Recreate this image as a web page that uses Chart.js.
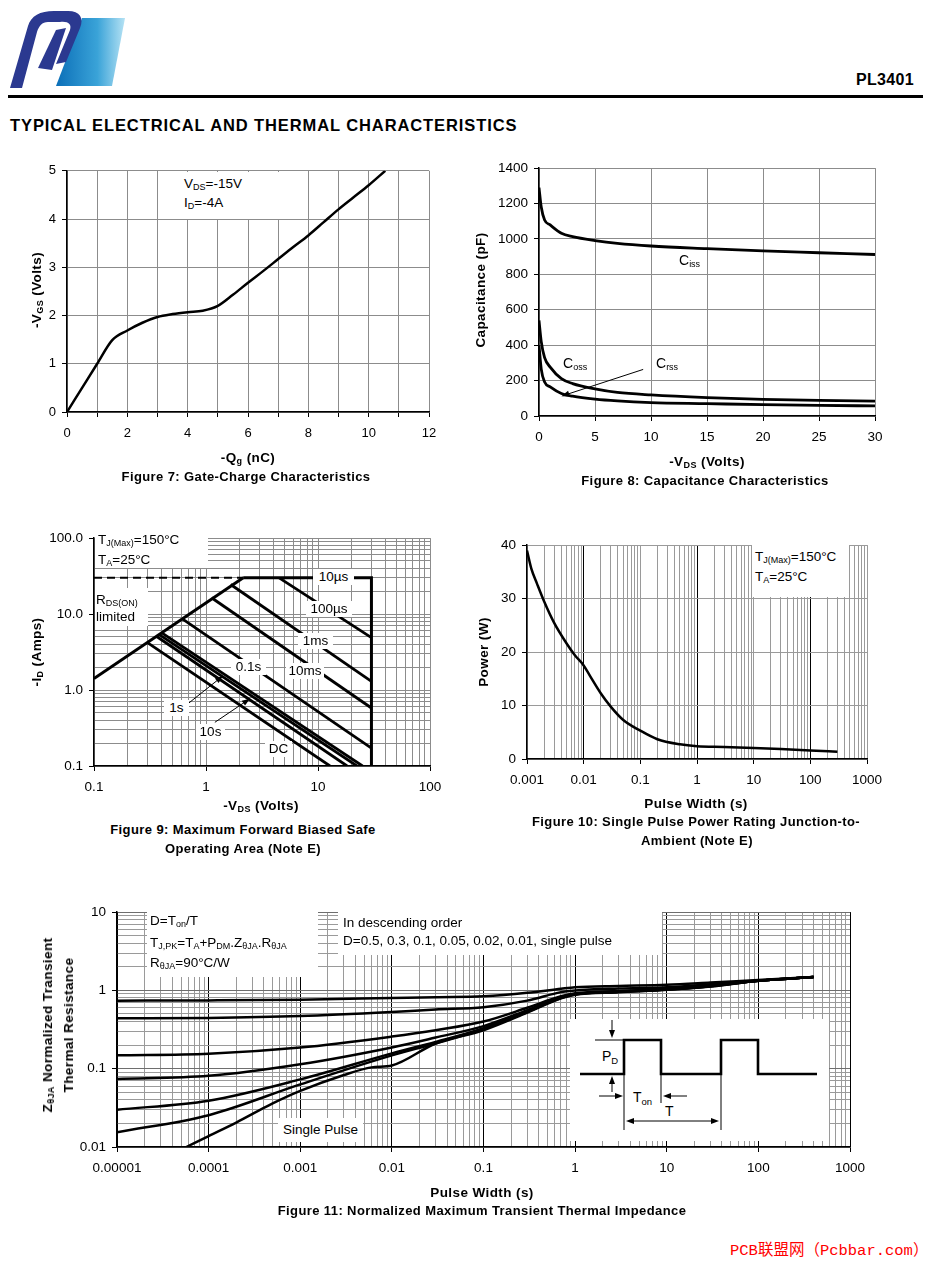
<!DOCTYPE html>
<html lang="en">
<head>
  <meta charset="UTF-8">
  <title>PL3401 Typical Electrical and Thermal Characteristics</title>
  <script src="https://cdn.jsdelivr.net/npm/chart.js"></script>
  <style>
    body { margin: 0; background: #fff; }
    #page { position: relative; width: 932px; height: 1268px; overflow: hidden; background: #fff; }
    canvas, .abs { position: absolute; }
    .t { position: absolute; font-family: "Liberation Sans", Arial, sans-serif; font-size: 13.5px; line-height: 1; white-space: nowrap; color: #000; }
    .b { font-weight: bold; letter-spacing: 0.4px; }
    .c { transform: translateX(-50%); }
    .rot { transform: translate(-50%, -50%) rotate(-90deg); text-align: center; }
    .box { position: absolute; background: #fff; }
    .lab { position: absolute; background: #fff; font-family: "Liberation Sans", Arial, sans-serif; font-size: 13.5px; text-align: center; white-space: nowrap; }
    sub { font-size: 9px; vertical-align: -2px; line-height: 0; }
  </style>
</head>
<body>
<div id="page">
  <!-- logo -->
  <svg class="abs" style="left:8px;top:8px" width="120" height="82" viewBox="0 0 120 82">
    <defs>
      <linearGradient id="lg" x1="0" y1="0" x2="1" y2="0">
        <stop offset="0" stop-color="#0b6fb8"/>
        <stop offset="0.6" stop-color="#3aa3d8"/>
        <stop offset="1" stop-color="#b5e2f4"/>
      </linearGradient>
    </defs>
    <polygon points="74,10 117,10 104,78 48,78" fill="url(#lg)"/>
    <path d="M2 80 L20 18 C23 8 32 3 46 3 L60 3 C72 3 76 10 72 20 L58 54 L48 56 L62 22 C64 16 60 13 52 14 L40 14 C34 14 31 18 29 24 L14 80 Z" fill="#2b3990"/>
    <path d="M30 60 L48 22 L58 20 L44 62 Z" fill="#2b3990"/>
  </svg>
  <div class="t b" style="left:856px;top:72px;font-size:16px;letter-spacing:0.3px">PL3401</div>
  <div class="box" style="left:8px;top:95px;width:915px;height:3px;background:#000"></div>
  <div class="t b" style="left:10px;top:117px;font-size:16.5px;letter-spacing:0.9px">TYPICAL ELECTRICAL AND THERMAL CHARACTERISTICS</div>

  <canvas id="fig7"></canvas>
  <canvas id="fig8"></canvas>
  <canvas id="fig9"></canvas>
  <canvas id="fig10"></canvas>
  <canvas id="fig11"></canvas>

  <!-- Figure 7 texts -->
  <div class="box" style="left:181px;top:172px;width:99px;height:47px"></div>
  <div class="t" style="left:184px;top:177px">V<sub>DS</sub>=-15V</div>
  <div class="t" style="left:184px;top:196px">I<sub>D</sub>=-4A</div>
  <div class="t b rot" style="left:37px;top:290px">-V<sub>GS</sub> (Volts)</div>
  <div class="t b c" style="left:248px;top:451px">-Q<sub>g</sub> (nC)</div>
  <div class="t b c" style="left:246px;top:470px;font-size:13px">Figure 7: Gate-Charge Characteristics</div>

  <!-- Figure 8 texts -->
  <div class="t" style="left:679px;top:253px;font-size:14px">C<sub>iss</sub></div>
  <div class="t" style="left:563px;top:356px;font-size:14px">C<sub>oss</sub></div>
  <div class="t" style="left:656px;top:356px;font-size:14px">C<sub>rss</sub></div>
  <div class="t b rot" style="left:481px;top:290px">Capacitance (pF)</div>
  <div class="t b c" style="left:707px;top:455px">-V<sub>DS</sub> (Volts)</div>
  <div class="t b c" style="left:705px;top:474px;font-size:13px">Figure 8: Capacitance Characteristics</div>

  <!-- Figure 9 texts -->
  <div class="box" style="left:95px;top:528px;width:113px;height:40px"></div>
  <div class="t" style="left:98px;top:533px">T<sub>J(Max)</sub>=150°C</div>
  <div class="t" style="left:98px;top:553px">T<sub>A</sub>=25°C</div>
  <div class="box" style="left:95px;top:588px;width:53px;height:38px"></div>
  <div class="t" style="left:96px;top:593px">R<sub>DS(ON)</sub></div>
  <div class="t" style="left:96px;top:610px">limited</div>
  <div class="lab" style="left:313px;top:569px;width:41px;height:16px;line-height:16px">10µs</div>
  <div class="lab" style="left:306px;top:601px;width:46px;height:16px;line-height:16px">100µs</div>
  <div class="lab" style="left:298px;top:633px;width:35px;height:16px;line-height:16px">1ms</div>
  <div class="lab" style="left:286px;top:663px;width:38px;height:16px;line-height:16px">10ms</div>
  <div class="lab" style="left:231px;top:659px;width:35px;height:16px;line-height:16px">0.1s</div>
  <div class="lab" style="left:164px;top:700px;width:25px;height:16px;line-height:16px">1s</div>
  <div class="lab" style="left:196px;top:724px;width:29px;height:16px;line-height:16px">10s</div>
  <div class="lab" style="left:265px;top:741px;width:27px;height:16px;line-height:16px">DC</div>
  <div class="t b rot" style="left:37px;top:652px">-I<sub>D</sub> (Amps)</div>
  <div class="t b c" style="left:261px;top:799px">-V<sub>DS</sub> (Volts)</div>
  <div class="t b c" style="left:243px;top:823px;font-size:13px">Figure 9: Maximum Forward Biased Safe</div>
  <div class="t b c" style="left:243px;top:842px;font-size:13px">Operating Area (Note E)</div>

  <!-- Figure 10 texts -->
  <div class="box" style="left:752px;top:545px;width:97px;height:52px"></div>
  <div class="t" style="left:755px;top:550px">T<sub>J(Max)</sub>=150°C</div>
  <div class="t" style="left:755px;top:570px">T<sub>A</sub>=25°C</div>
  <div class="t b rot" style="left:484px;top:652px">Power (W)</div>
  <div class="t b c" style="left:696px;top:797px">Pulse Width (s)</div>
  <div class="t b c" style="left:696px;top:815px;font-size:13px">Figure 10: Single Pulse Power Rating Junction-to-</div>
  <div class="t b c" style="left:697px;top:834px;font-size:13px">Ambient (Note E)</div>

  <!-- Figure 11 texts -->
  <div class="box" style="left:147px;top:912px;width:171px;height:65px"></div>
  <div class="t" style="left:150px;top:914px">D=T<sub>on</sub>/T</div>
  <div class="t" style="left:150px;top:936px">T<sub>J,PK</sub>=T<sub>A</sub>+P<sub>DM</sub>.Z<sub>θJA</sub>.R<sub>θJA</sub></div>
  <div class="t" style="left:150px;top:956px">R<sub>θJA</sub>=90°C/W</div>
  <div class="box" style="left:338px;top:912px;width:324px;height:43px"></div>
  <div class="t" style="left:343px;top:916px">In descending order</div>
  <div class="t" style="left:343px;top:934px">D=0.5, 0.3, 0.1, 0.05, 0.02, 0.01, single pulse</div>
  <div class="lab" style="left:278px;top:1118px;width:85px;height:24px;line-height:24px">Single Pulse</div>
  <svg class="abs" style="left:570px;top:1019px" width="259" height="122" viewBox="0 0 259 122">
    <rect width="259" height="122" fill="#fff"/>
    <polyline points="10,55 54,55 54,21 91,21 91,55 151,55 151,21 188,21 188,55 247,55" fill="none" stroke="#000" stroke-width="2.6"/>
    <g stroke="#000" stroke-width="1" fill="none">
      <line x1="25" y1="21" x2="54" y2="21"/>
      <line x1="54" y1="55" x2="54" y2="111"/>
      <line x1="91" y1="55" x2="91" y2="84"/>
      <line x1="151" y1="55" x2="151" y2="111"/>
      <line x1="42" y1="1" x2="42" y2="13"/>
      <line x1="42" y1="73" x2="42" y2="63"/>
      <line x1="29" y1="77" x2="47" y2="77"/>
      <line x1="117" y1="77" x2="99" y2="77"/>
      <line x1="62" y1="102" x2="143" y2="102"/>
    </g>
    <g fill="#000">
      <polygon points="42,19 39,11 45,11"/>
      <polygon points="42,57 39,65 45,65"/>
      <polygon points="53,77 45,74 45,80"/>
      <polygon points="93,77 101,74 101,80"/>
      <polygon points="56,102 64,99 64,105"/>
      <polygon points="149,102 141,99 141,105"/>
    </g>
    <g font-family="Liberation Sans, Arial, sans-serif" font-size="14" fill="#000">
      <text x="32" y="42">P<tspan font-size="9.5" dy="3">D</tspan></text>
      <text x="63" y="83">T<tspan font-size="9.5" dy="3">on</tspan></text>
      <text x="95" y="97">T</text>
    </g>
  </svg>
  <div class="t b rot" style="left:58px;top:1025px;line-height:21px">Z<sub>θJA</sub> Normalized Transient<br>Thermal Resistance</div>
  <div class="t b c" style="left:482px;top:1186px">Pulse Width (s)</div>
  <div class="t b c" style="left:482px;top:1204px;font-size:13px">Figure 11: Normalized Maximum Transient Thermal Impedance</div>

  <div class="t" style="left:730px;top:1244px;font-size:15.5px;color:#ff0000;font-family:'Liberation Mono','Noto Sans CJK SC',monospace">PCB联盟网（Pcbbar.com）</div>
</div>

<script>
  // ---------- Figure 7: gate charge ----------
  const qgNc = [0, 0.5, 1, 1.5, 2, 2.5, 3, 3.5, 4, 4.5, 5, 5.5, 6, 6.5, 7, 7.5, 8, 8.5, 9, 9.5, 10, 10.55];
  const vgsVolts = [0, 0.5, 1.0, 1.49, 1.69, 1.85, 1.97, 2.03, 2.07, 2.1, 2.2, 2.43, 2.68, 2.92, 3.17, 3.42, 3.66, 3.93, 4.2, 4.45, 4.7, 5.0];

  // ---------- Figure 8: capacitance ----------
  const vdsVolts = [0, 0.2, 0.5, 1, 2, 3, 5, 7, 10, 15, 20, 25, 30];
  const cissPf = [1290, 1180, 1107, 1079, 1032, 1013, 991, 975, 960, 945, 932, 922, 912];
  const cossPf = [540, 420, 330, 276, 211, 183, 153, 133, 119, 104, 94, 88, 84];
  const crssPf = [400, 265, 192, 164, 127, 112, 95, 85, 76, 70, 64, 60, 57];

  // ---------- Figure 9: safe operating area (V, A) ----------
  const soaRdsV = [0.1, 2.15], soaRdsI = [1.42, 30];
  const soaDashV = [0.1, 2.15], soaDashI = [30, 30];
  const soaEdgeV = [2.15, 30, 30], soaEdgeI = [30, 30, 0.1];
  const soa10usV = [4.5, 30], soa10usI = [30, 4.9];
  const soa100usV = [1.66, 30], soa100usI = [24.5, 1.3];
  const soa1msV = [1.12, 30], soa1msI = [16.4, 0.58];
  const soa10msV = [0.61, 30], soa10msI = [8.7, 0.172];
  const soa100msV = [0.40, 25], soa100msI = [5.7, 0.1];
  const soa1sV = [0.38, 22.3], soa1sI = [5.4, 0.1];
  const soa10sV = [0.36, 18.2], soa10sI = [5.1, 0.1];
  const soaDcV = [0.30, 12.8], soaDcI = [4.2, 0.1];

  // ---------- Figure 10: single pulse power ----------
  const pulseS = [0.001, 0.0012, 0.0015, 0.002, 0.003, 0.005, 0.007, 0.01, 0.013, 0.02, 0.03, 0.05, 0.1, 0.2, 0.5, 1, 3, 10, 30, 100, 300];
  const powerW = [39, 35.5, 32.8, 29.5, 25.5, 21.6, 19.4, 17.5, 15.5, 12.3, 9.8, 7.3, 5.3, 3.7, 2.75, 2.4, 2.25, 2.05, 1.85, 1.6, 1.35];

  // ---------- Figure 11: transient thermal impedance ----------
  const zthS = [1e-5, 1e-4, 1e-3, 0.01, 0.03, 0.1, 0.3, 0.7, 1, 3, 10, 30, 100, 400];
  const zthD50 = [0.74, 0.745, 0.76, 0.80, 0.82, 0.84, 0.93, 1.05, 1.10, 1.14, 1.18, 1.26, 1.36, 1.48];
  const zthD30 = [0.44, 0.445, 0.47, 0.53, 0.57, 0.61, 0.74, 0.95, 1.0, 1.06, 1.10, 1.20, 1.34, 1.48];
  const zthD10 = [0.148, 0.155, 0.186, 0.257, 0.31, 0.40, 0.60, 0.84, 0.92, 0.98, 1.04, 1.15, 1.33, 1.48];
  const zthD05 = [0.074, 0.081, 0.114, 0.187, 0.25, 0.35, 0.56, 0.82, 0.90, 0.97, 1.03, 1.14, 1.33, 1.48];
  const zthD02 = [0.030, 0.039, 0.073, 0.157, 0.22, 0.33, 0.54, 0.81, 0.89, 0.96, 1.03, 1.13, 1.33, 1.48];
  const zthD01 = [0.0154, 0.0255, 0.063, 0.148, 0.21, 0.32, 0.53, 0.80, 0.89, 0.96, 1.02, 1.13, 1.33, 1.48];
  const zthSingleS = [5.7e-5, 1e-4, 2e-4, 5e-4, 1e-3, 3e-3, 6e-3, 0.01, 0.03, 0.1, 0.3, 0.7, 1, 3, 10, 30, 100, 400];
  const zthSingle = [0.01, 0.0138, 0.0205, 0.036, 0.052, 0.083, 0.104, 0.11, 0.21, 0.31, 0.52, 0.79, 0.88, 0.95, 1.02, 1.12, 1.33, 1.48];

  // annotation arrows [x, y] in data units
  const fig8Arrow = { from: [9.3, 263], to: [2.0, 112] };
  const fig9Arrow1s = { from: [0.676, 0.645], to: [1.42, 1.54] };
  const fig9Arrow10s = { from: [1.2, 0.376], to: [2.47, 0.77] };

  Chart.defaults.font.family = '"Liberation Sans", Arial, sans-serif';
  Chart.defaults.font.size = 13.5;
  Chart.defaults.color = '#000';
  Chart.defaults.animation = false;
  Chart.defaults.plugins.legend.display = false;
  Chart.defaults.plugins.tooltip.enabled = false;

  const GRID = '#8c8c8c';

  function isDecade(v) {
    const l = Math.log10(v);
    return Math.abs(l - Math.round(l)) < 1e-6;
  }

  function logTicks(min, max) {
    const out = [];
    for (let e = Math.floor(Math.log10(min)); e <= Math.ceil(Math.log10(max)); e++) {
      for (let k = 1; k < 10; k++) {
        const v = parseFloat((k * Math.pow(10, e)).toPrecision(6));
        if (v >= min * 0.999 && v <= max * 1.001) out.push(v);
      }
    }
    return out;
  }

  // place canvas so that the plot area lands on plot = [left, top, right, bottom]
  function mount(id, plot, m) {
    const c = document.getElementById(id);
    const w = plot[2] - plot[0] + m.l + m.r;
    const h = plot[3] - plot[1] + m.t + m.b;
    c.width = w; c.height = h;
    c.style.left = (plot[0] - m.l) + 'px';
    c.style.top = (plot[1] - m.t) + 'px';
    c.style.width = w + 'px';
    c.style.height = h + 'px';
    return c;
  }

  function axis(dir, m, o) {
    const s = {
      type: o.type || 'linear',
      min: o.min,
      max: o.max,
      afterFit: dir === 'x' ? sc => { sc.height = m.b; } : sc => { sc.width = m.l; },
      border: { display: true, color: '#000', width: 1.5 },
      grid: {
        color: o.gridColor || GRID,
        lineWidth: 1,
        tickLength: 5,
        tickColor: o.tickColor || '#000'
      },
      ticks: {
        autoSkip: false,
        maxRotation: 0,
        minRotation: 0,
        padding: dir === 'x' ? (o.pad || 8) : 6,
        stepSize: o.step,
        font: { size: o.size || 13.5 },
        callback: o.label
      }
    };
    if (s.type === 'logarithmic') {
      s.afterBuildTicks = sc => { sc.ticks = logTicks(o.min, o.max).map(v => ({ value: v })); };
    }
    return s;
  }

  function curve(xs, ys, w, extra) {
    return Object.assign({
      data: xs.map((x, i) => ({ x: x, y: ys[i] })),
      borderColor: '#000',
      borderWidth: w || 2.5,
      pointRadius: 0,
      fill: false,
      cubicInterpolationMode: 'monotone'
    }, extra || {});
  }

  function seg(xs, ys, w, extra) {
    return curve(xs, ys, w, Object.assign({ cubicInterpolationMode: 'default', tension: 0 }, extra || {}));
  }

  function arrows(list) {
    return {
      id: 'arrows',
      afterDatasetsDraw(chart) {
        const { ctx, scales } = chart;
        list.forEach(a => {
          const x1 = scales.x.getPixelForValue(a.from[0]), y1 = scales.y.getPixelForValue(a.from[1]);
          const x2 = scales.x.getPixelForValue(a.to[0]), y2 = scales.y.getPixelForValue(a.to[1]);
          const ang = Math.atan2(y2 - y1, x2 - x1), hl = 8, hw = 3;
          const cs = Math.cos(ang), sn = Math.sin(ang);
          ctx.save();
          ctx.strokeStyle = '#000'; ctx.fillStyle = '#000'; ctx.lineWidth = 1;
          ctx.beginPath(); ctx.moveTo(x1, y1); ctx.lineTo(x2 - hl * cs * 0.8, y2 - hl * sn * 0.8); ctx.stroke();
          ctx.beginPath(); ctx.moveTo(x2, y2);
          ctx.lineTo(x2 - hl * cs + hw * sn, y2 - hl * sn - hw * cs);
          ctx.lineTo(x2 - hl * cs - hw * sn, y2 - hl * sn + hw * cs);
          ctx.closePath(); ctx.fill();
          ctx.restore();
        });
      }
    };
  }

  function make(id, plot, m, datasets, xo, yo, plugins) {
    const c = mount(id, plot, m);
    return new Chart(c.getContext('2d'), {
      type: 'line',
      data: { datasets: datasets },
      options: {
        responsive: false,
        layout: { padding: { left: 0, top: m.t, right: m.r, bottom: 0 } },
        scales: { x: axis('x', m, xo), y: axis('y', m, yo) }
      },
      plugins: plugins || []
    });
  }

  // Figure 7
  const m7 = { l: 60, t: 12, r: 22, b: 42 };
  make('fig7', [67, 169, 429, 412], m7,
    [curve(qgNc, vgsVolts, 2.5)],
    { min: 0, max: 12, step: 1, pad: 9, size: 13, label: v => (v % 2 === 0 ? String(v) : '') },
    { min: 0, max: 5, step: 1, size: 13, label: v => String(v) });

  // Figure 8
  const m8 = { l: 70, t: 12, r: 24, b: 42 };
  make('fig8', [539, 166, 875, 416], m8,
    [curve(vdsVolts, cissPf, 2.8), curve(vdsVolts, cossPf, 2.8), curve(vdsVolts, crssPf, 2.8)],
    { min: 0, max: 30, step: 5, label: v => String(v) },
    { min: 0, max: 1400, step: 200, label: v => String(v) },
    [arrows([fig8Arrow])]);

  // Figure 9
  const m9 = { l: 60, t: 12, r: 28, b: 42 };
  const logTick = ctx => (isDecade(ctx.tick.value) ? '#000' : 'rgba(0,0,0,0)');
  make('fig9', [94, 536, 430, 766], m9,
    [
      seg(soaRdsV, soaRdsI, 3),
      seg(soaDashV, soaDashI, 2, { borderDash: [8, 5] }),
      seg(soaEdgeV, soaEdgeI, 3),
      seg(soa10usV, soa10usI, 2.8),
      seg(soa100usV, soa100usI, 2.8),
      seg(soa1msV, soa1msI, 2.8),
      seg(soa10msV, soa10msI, 2.8),
      seg(soa100msV, soa100msI, 2.8),
      seg(soa1sV, soa1sI, 2.8),
      seg(soa10sV, soa10sI, 2.8),
      seg(soaDcV, soaDcI, 2.8)
    ],
    { type: 'logarithmic', min: 0.1, max: 100, tickColor: logTick, label: v => (isDecade(v) ? String(v) : '') },
    { type: 'logarithmic', min: 0.1, max: 100, tickColor: logTick, label: v => (isDecade(v) ? v.toFixed(1) : '') },
    [arrows([fig9Arrow1s, fig9Arrow10s])]);

  // Figure 10
  const m10 = { l: 55, t: 12, r: 30, b: 42 };
  make('fig10', [527, 543, 867, 759], m10,
    [curve(pulseS, powerW, 2.5)],
    {
      type: 'logarithmic', min: 0.001, max: 1000, tickColor: logTick,
      gridColor: ctx => (isDecade(ctx.tick.value) && Math.round(Math.log10(ctx.tick.value)) % 2 === 0 ? '#000' : '#9a9a9a'),
      label: v => (isDecade(v) ? String(v) : '')
    },
    { min: 0, max: 40, step: 10, gridColor: '#9a9a9a', label: v => String(v) });

  // Figure 11
  const m11 = { l: 70, t: 12, r: 34, b: 42 };
  make('fig11', [117, 910, 850, 1147], m11,
    [
      curve(zthS, zthD50, 2.5),
      curve(zthS, zthD30, 2.5),
      curve(zthS, zthD10, 2.5),
      curve(zthS, zthD05, 2.5),
      curve(zthS, zthD02, 2.5),
      curve(zthS, zthD01, 2.5),
      curve(zthSingleS, zthSingle, 2.5)
    ],
    {
      type: 'logarithmic', min: 0.00001, max: 1000, tickColor: logTick,
      gridColor: ctx => (isDecade(ctx.tick.value) ? '#000' : '#9a9a9a'),
      label: v => (isDecade(v) ? String(v) : '')
    },
    {
      type: 'logarithmic', min: 0.01, max: 10, tickColor: logTick,
      gridColor: ctx => (isDecade(ctx.tick.value) ? '#6e6e6e' : '#9a9a9a'),
      label: v => (isDecade(v) ? String(v) : '')
    });
</script>
</body>
</html>
